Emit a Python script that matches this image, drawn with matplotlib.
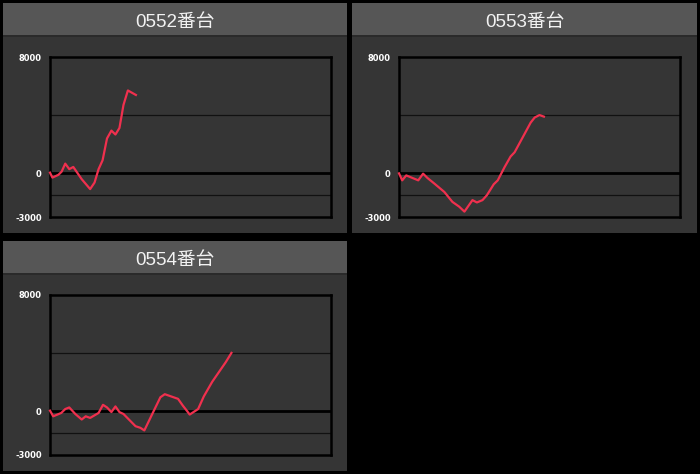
import matplotlib
matplotlib.use('Agg')
import matplotlib.pyplot as plt
from matplotlib.patches import Rectangle

plt.rcParams['font.family'] = ['Noto Sans CJK JP', 'DejaVu Sans']

W, H = 700, 474

# data (x = games, y = medals)
titles = ['0552番台', '0553番台', '0554番台']

x552 = [0, 60, 210, 290, 380, 480, 580, 790, 1000, 1110, 1210, 1310, 1420,
        1530, 1630, 1730, 1830, 1940, 2140]
y552 = [50, -290, -100, 120, 670, 290, 440, -400, -1080, -630, 290, 900, 2400,
        2940, 2670, 3120, 4700, 5700, 5390]

x553 = [0, 80, 180, 480, 600, 710, 880, 1130, 1330, 1500, 1630, 1830, 1940,
        2080, 2190, 2360, 2460, 2630, 2780, 2880, 3080, 3280, 3380, 3500, 3610]
y553 = [0, -480, -140, -480, -20, -320, -700, -1280, -1960, -2290, -2630, -1840,
        -2000, -1840, -1500, -750, -480, 430, 1160, 1450, 2470, 3490, 3840, 4010, 3900]

x554 = [0, 80, 280, 380, 480, 630, 790, 890, 1000, 1210, 1320, 1420, 1530, 1630,
        1730, 1830, 2130, 2250, 2350, 2560, 2750, 2860, 3190, 3310, 3390, 3480,
        3690, 3830, 4040, 4210, 4380, 4520]
y554 = [50, -340, -110, 160, 270, -180, -560, -340, -450, -110, 450, 270, -50, 340,
        -50, -180, -1020, -1130, -1310, -110, 970, 1180, 860, 390, 110, -220, 160,
        1020, 2030, 2710, 3390, 4020]

series = [(x552, y552), (x553, y553), (x554, y554)]

ymin, ymax = -3000, 8000
xmax = 7000
yticks = [8000, 0, -3000]
grid_vals = [4000, -1500]

# panel boxes in pixels: left, top, right, bottom
panels = [(3, 3, 347, 233), (352, 3, 697, 233), (3, 241, 347, 471)]

fig = plt.figure(figsize=(W / 100, H / 100), dpi=100)
fig.patch.set_facecolor('black')


def box(l, t, r, b):
    return [l / W, 1 - b / H, (r - l) / W, (b - t) / H]


def rect(l, t, r, b, color):
    fig.add_artist(Rectangle((l / W, 1 - b / H), (r - l) / W, (b - t) / H,
                             transform=fig.transFigure, facecolor=color,
                             edgecolor='none', zorder=0))


for (l, t, r, b), title, (xs, ys) in zip(panels, titles, series):
    rect(l, t, r, t + 32, '#565656')
    rect(l, t + 32, r, t + 34, '#2a2a2a')
    rect(l, t + 34, r, b, '#353535')
    fig.text((l + r) / 2 / W, 1 - (t + 19) / H, title, color='#f2f2f2',
             fontsize=13.5, ha='center', va='center',
             family=['Liberation Sans', 'Noto Sans CJK JP'])

    ax = fig.add_axes(box(l + 47, t + 54, l + 328, t + 214))
    ax.set_facecolor('#353535')
    ax.set_xlim(0, xmax)
    ax.set_ylim(ymin, ymax)
    for g in grid_vals:
        ax.axhline(g, color='#111111', lw=0.9, zorder=1)
    ax.axhline(0, color='black', lw=2, zorder=1)
    ax.plot(xs, ys, color='#f0304e', lw=1.6, zorder=3, clip_on=False)
    ax.set_xticks([])
    ax.set_yticks(yticks)
    ax.set_yticklabels([str(v) for v in yticks], color='white', fontsize=6,
                       fontweight='bold', family='DejaVu Sans')
    ax.tick_params(axis='y', length=0, pad=6)
    for s in ax.spines.values():
        s.set_color('black')
        s.set_linewidth(1.8)

fig.savefig('out.png', dpi=100, facecolor='black')
